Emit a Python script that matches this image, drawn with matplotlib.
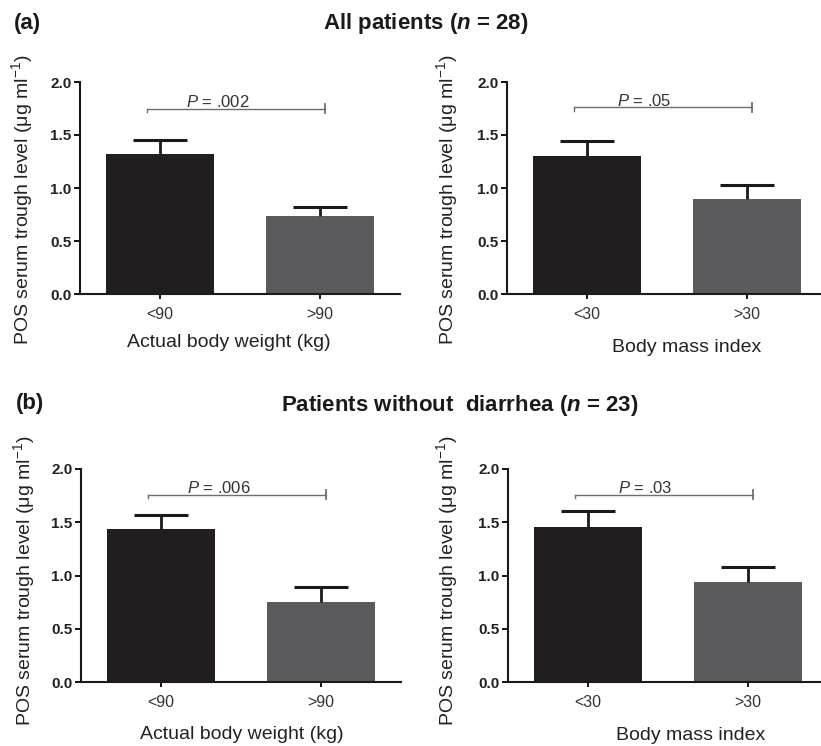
import matplotlib
matplotlib.use("Agg")
from matplotlib import pyplot as plt

plt.rcParams["font.family"] = ["Liberation Sans", "DejaVu Sans"]
plt.rcParams["mathtext.fontset"] = "custom"
plt.rcParams["mathtext.rm"] = "Liberation Sans"
plt.rcParams["mathtext.it"] = "Liberation Sans:italic"
plt.rcParams["mathtext.bf"] = "Liberation Sans:bold"
plt.rcParams["mathtext.bfit"] = "Liberation Sans:italic:bold"

# data
weight_groups = ["<90", ">90"]
bmi_groups = ["<30", ">30"]

all_weight_mean = [1.32, 0.74]
all_weight_sem = [0.13, 0.08]
all_bmi_mean = [1.30, 0.90]
all_bmi_sem = [0.14, 0.13]

nodia_weight_mean = [1.44, 0.75]
nodia_weight_sem = [0.13, 0.14]
nodia_bmi_mean = [1.46, 0.94]
nodia_bmi_sem = [0.15, 0.14]

p_values = ["P = .002", "P = .05", "P = .006", "P = .03"]
sig_y = [1.75, 1.76, 1.76, 1.76]

bar_colors = ["#221e1f", "#5b5b5d"]
ylab = "POS serum trough level (μg ml$^{-1}$)"

W, H = 821, 746
fig = plt.figure(figsize=(W / 100, H / 100), dpi=100)


def make_ax(left, top, width, height):
    return fig.add_axes([left / W, (H - top - height) / H, width / W, height / H])


def draw_panel(ax, groups, means, sems, pval, sy, xlabel, xlab_pos, ylab_x, ylab_y, xmax):
    x = list(range(len(groups)))
    ax.bar(x, means, width=0.675, color=bar_colors, zorder=2)
    tops = [m + s for m, s in zip(means, sems)]
    ax.vlines(x, means, tops, color="#1a1a1a", lw=2, zorder=3)
    ax.hlines(tops, [i - 0.17 for i in x], [i + 0.17 for i in x], color="#1a1a1a", lw=2.2, zorder=3)

    # significance bracket
    ax.plot([-0.08, 1.03], [sy, sy], color="#6e6e6e", lw=1)
    ax.plot([-0.08, -0.08], [sy - 0.03, sy], color="#6e6e6e", lw=1)
    ax.plot([1.03, 1.03], [sy - 0.04, sy + 0.04], color="#6e6e6e", lw=1.3)
    ptxt = "$P$" + pval[1:]
    ax.text(0.36, sy + 0.012, ptxt, ha="center", va="baseline", fontsize=12, color="#333333")

    ax.set_xlim(-0.5, xmax)
    ax.set_ylim(0, 2.0)
    ax.set_yticks([0, 0.5, 1.0, 1.5, 2.0])
    ax.set_yticklabels(["0.0", "0.5", "1.0", "1.5", "2.0"], fontweight="bold", fontsize=11, color="#222222")
    ax.set_xticks(x)
    ax.set_xticklabels(groups, fontsize=11.5, color="#333333")
    ax.tick_params(axis="y", length=4, width=1.3, pad=2)
    ax.tick_params(axis="x", direction="inout", length=7, width=1.3, pad=6)
    for s in ["top", "right"]:
        ax.spines[s].set_visible(False)
    for s in ["left", "bottom"]:
        ax.spines[s].set_linewidth(1.5)
        ax.spines[s].set_color("#1a1a1a")

    ax.set_xlabel(xlabel, fontsize=14, color="#222222")
    ax.xaxis.set_label_coords(xlab_pos[0], xlab_pos[1])
    ax.xaxis.label.set_va("top")
    ax.text(ylab_x, ylab_y, ylab, rotation=90, ha="center", va="center",
            fontsize=14, color="#222222", transform=ax.transAxes)


ax1 = make_ax(80, 82, 320, 212)
ax2 = make_ax(507, 82, 314, 212)
ax3 = make_ax(81, 469, 320, 213)
ax4 = make_ax(508, 469, 314, 213)

draw_panel(ax1, weight_groups, all_weight_mean, all_weight_sem, p_values[0], sig_y[0],
           "Actual body weight (kg)", (0.466, -0.19), -0.181, 0.443, 1.5)
draw_panel(ax2, bmi_groups, all_bmi_mean, all_bmi_sem, p_values[1], sig_y[1],
           "Body mass index", (0.573, -0.214), -0.191, 0.443, 1.4625)
draw_panel(ax3, weight_groups, nodia_weight_mean, nodia_weight_sem, p_values[2], sig_y[2],
           "Actual body weight (kg)", (0.503, -0.208), -0.178, 0.474, 1.5)
draw_panel(ax4, bmi_groups, nodia_bmi_mean, nodia_bmi_sem, p_values[3], sig_y[3],
           "Body mass index", (0.583, -0.212), -0.194, 0.474, 1.4625)

fig.text(14 / W, 1 - 24 / H, "(a)", fontsize=16, fontweight="bold", ha="left", va="center", color="#1a1a1a")
fig.text(426 / W, 1 - 24 / H, r"All patients ($\mathbfit{n}$ = 28)", fontsize=16, fontweight="bold",
         ha="center", va="center", color="#1a1a1a")
fig.text(16 / W, 1 - 403 / H, "(b)", fontsize=16, fontweight="bold", ha="left", va="center", color="#1a1a1a")
fig.text(460 / W, 1 - 406 / H, r"Patients without  diarrhea ($\mathbfit{n}$ = 23)", fontsize=16,
         fontweight="bold", ha="center", va="center", color="#1a1a1a")

fig.savefig("out.png", dpi=100)
